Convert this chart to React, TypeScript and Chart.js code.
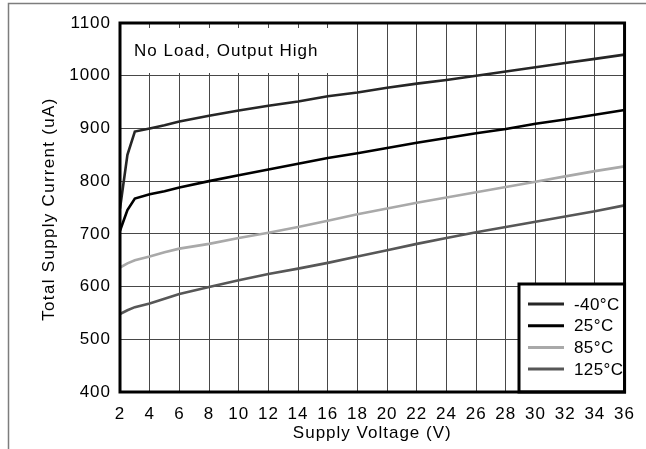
import React, { useEffect, useRef } from 'react';
import { Chart, registerables } from 'chart.js';

Chart.register(...registerables);

// Supply voltage (V)
const voltages = [2, 2.5, 3, 4, 5, 6, 8, 10, 12, 14, 16, 18, 20, 22, 24, 26, 28, 30, 32, 34, 36];
// Total supply current (uA)
const currentM40 = [748, 850, 894, 900, 906, 913, 924, 934, 943, 951, 961, 968, 977, 985, 992, 1000, 1008, 1016, 1024, 1032, 1040];
const current25 = [706, 745, 767, 775, 781, 788, 800, 811, 822, 833, 844, 853, 863, 873, 882, 891, 899, 909, 917, 926, 935];
const current85 = [636, 644, 650, 657, 665, 672, 681, 692, 702, 713, 725, 737, 748, 759, 769, 779, 789, 799, 809, 819, 828];
const current125 = [548, 555, 561, 568, 577, 586, 599, 612, 624, 634, 645, 657, 669, 681, 692, 703, 713, 723, 733, 743, 754];

const seriesLabels = ['-40°C', '25°C', '85°C', '125°C'];
const seriesValues = [currentM40, current25, current85, current125];
const seriesColors = ['#262626', '#000000', '#a9a9a9', '#575757'];

const xTitle = 'Supply Voltage (V)';
const yTitle = 'Total Supply Current (uA)';
const noteText = 'No Load, Output High';

const FONT_FAMILY = '"Liberation Sans", Arial, Helvetica, sans-serif';

const decorPlugin = {
  id: 'decor',
  beforeDraw(chart: any) {
    const ctx = chart.ctx;
    ctx.letterSpacing = '1px';
    ctx.save();
    ctx.strokeStyle = '#7d7d7d';
    ctx.lineWidth = 1.5;
    ctx.beginPath();
    ctx.moveTo(8.5, 449);
    ctx.lineTo(8.5, 3.5);
    ctx.lineTo(646, 3.5);
    ctx.stroke();
    ctx.restore();
  },
  beforeDatasetsDraw(chart: any) {
    const ctx = chart.ctx;
    const a = chart.chartArea;
    ctx.save();
    ctx.fillStyle = '#ffffff';
    ctx.fillRect(a.left, 28, 340 - a.left, 45);
    ctx.fillStyle = '#000000';
    ctx.font = `17px ${FONT_FAMILY}`;
    ctx.textAlign = 'left';
    ctx.textBaseline = 'alphabetic';
    ctx.fillText(noteText, 134, 56);
    ctx.restore();
  },
  afterDatasetsDraw(chart: any) {
    const ctx = chart.ctx;
    const a = chart.chartArea;
    ctx.save();
    // legend
    const lx = 519;
    const ly = 284;
    ctx.fillStyle = '#ffffff';
    ctx.fillRect(lx, ly, a.right - lx, a.bottom - ly);
    ctx.strokeStyle = '#000000';
    ctx.lineWidth = 3;
    ctx.strokeRect(lx, ly, a.right - lx, a.bottom - ly);
    ctx.font = `17px ${FONT_FAMILY}`;
    ctx.letterSpacing = '0.4px';
    ctx.textAlign = 'left';
    ctx.textBaseline = 'middle';
    chart.data.datasets.forEach((ds: any, i: number) => {
      const y = 304 + i * 21.7;
      ctx.strokeStyle = ds.borderColor;
      ctx.lineWidth = 3;
      ctx.beginPath();
      ctx.moveTo(528, y);
      ctx.lineTo(564, y);
      ctx.stroke();
      ctx.fillStyle = '#000000';
      ctx.fillText(ds.label, 574, y + 1);
    });
    // plot frame
    ctx.strokeStyle = '#000000';
    ctx.lineWidth = 3;
    ctx.strokeRect(a.left, a.top, a.right - a.left, a.bottom - a.top);
    // axis titles
    ctx.fillStyle = '#000000';
    ctx.font = `17px ${FONT_FAMILY}`;
    ctx.letterSpacing = '1px';
    ctx.textAlign = 'center';
    ctx.textBaseline = 'alphabetic';
    ctx.fillText(xTitle, (a.left + a.right) / 2, 438);
    ctx.translate(54, 209);
    ctx.rotate(-Math.PI / 2);
    ctx.letterSpacing = '1.3px';
    ctx.fillText(yTitle, 0, 0);
    ctx.restore();
  },
};

export default function App() {
  const canvasRef = useRef<HTMLCanvasElement | null>(null);

  useEffect(() => {
    const canvas = canvasRef.current;
    if (!canvas) return;
    const datasets = seriesLabels.map((label, i) => ({
      label,
      data: voltages.map((v, j) => ({ x: v, y: seriesValues[i][j] })),
      borderColor: seriesColors[i],
      backgroundColor: seriesColors[i],
      borderWidth: 2.6,
      pointRadius: 0,
      tension: 0,
      fill: false,
    }));
    const chart = new Chart(canvas, {
      type: 'line',
      data: { datasets },
      options: {
        animation: false,
        responsive: false,
        maintainAspectRatio: false,
        layout: { padding: { top: 23, right: 11, left: 0, bottom: 0 } },
        plugins: {
          legend: { display: false },
          tooltip: { enabled: false },
          title: { display: false },
        },
        scales: {
          x: {
            type: 'linear',
            min: 2,
            max: 36,
            afterFit: (scale: any) => {
              scale.height = 57;
            },
            ticks: {
              stepSize: 2,
              color: '#000000',
              padding: 12,
              maxRotation: 0,
              autoSkip: false,
              font: { family: FONT_FAMILY, size: 17 },
              callback: (v: any) => String(v),
            },
            grid: { color: '#474747', lineWidth: 1, drawTicks: false },
            border: { display: false },
          },
          y: {
            type: 'linear',
            min: 400,
            max: 1100,
            afterFit: (scale: any) => {
              scale.width = 120;
            },
            ticks: {
              stepSize: 100,
              color: '#000000',
              padding: 9,
              font: { family: FONT_FAMILY, size: 17 },
              callback: (v: any) => String(v),
            },
            grid: { color: '#474747', lineWidth: 1, drawTicks: false },
            border: { display: false },
          },
        },
      },
      plugins: [decorPlugin],
    });
    return () => {
      chart.destroy();
    };
  }, []);

  return (
    <div style={{ position: 'absolute', left: 0, top: 0, width: 646, height: 449, background: '#ffffff' }}>
      <canvas ref={canvasRef} width={646} height={449} style={{ display: 'block' }} />
    </div>
  );
}
